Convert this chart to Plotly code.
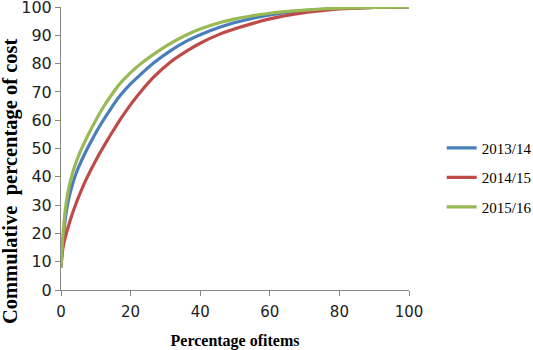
import plotly.graph_objects as go

series_names = ["2013/14", "2014/15", "2015/16"]

blue_x = [0, 0.3, 0.7, 1.2, 2, 3, 4, 5, 7, 9.3, 11.3, 14, 17, 20, 22.2, 26.6, 31.4, 36.2, 40, 45.8, 50, 60, 70, 80, 90, 100]
blue_y = [8, 13, 19, 25, 31, 36, 40, 43.2, 48.6, 54, 58.3, 63.5, 68.7, 72.8, 75.4, 80.2, 84.5, 88, 90.2, 92.9, 94.5, 97.2, 98.7, 99.5, 99.9, 100]

red_x = [0, 0.3, 0.8, 2, 3, 4, 5.5, 7.5, 10.3, 13.6, 15.1, 17, 20, 22.2, 26.6, 31.4, 36.2, 40, 45.8, 50, 60, 70, 75, 80, 90, 100]
red_y = [8, 12.5, 16.5, 22, 26, 29.5, 34.2, 39.8, 46.5, 53.5, 56.5, 60.2, 65.5, 69, 75.2, 80.5, 84.5, 87.2, 90.5, 92.3, 95.8, 98, 98.7, 99.3, 99.9, 100]

green_x = [0, 0.3, 0.7, 1.2, 2, 3, 4, 5.5, 7, 9.5, 12, 15, 17, 20, 23, 27, 31, 36, 40, 46, 50, 55, 60, 70, 80, 90, 100]
green_y = [8, 15, 21.5, 28, 34.5, 40, 44, 48.8, 52.8, 58.8, 64.3, 69.8, 73, 76.8, 80, 83.6, 86.8, 90.1, 92.2, 94.6, 95.8, 96.9, 97.8, 98.9, 99.6, 99.9, 100]

x_ticks = [0, 20, 40, 60, 80, 100]
y_ticks = [0, 10, 20, 30, 40, 50, 60, 70, 80, 90, 100]

colors = ["#4A7EBB", "#BE4B48", "#98B954"]
xs = [blue_x, red_x, green_x]
ys = [blue_y, red_y, green_y]

fig = go.Figure()
for name, x, y, c in zip(series_names, xs, ys, colors):
    fig.add_trace(go.Scatter(
        x=x, y=y, mode="lines", name=name, legendgroup=name,
        line=dict(color=c, width=3.2, shape="spline", smoothing=0.8),
        cliponaxis=False,
    ))

axis_common = dict(
    showgrid=False, zeroline=False, showline=True, linecolor="#878787", linewidth=1,
    ticks="outside", ticklen=5, tickcolor="#878787", tickwidth=1,
    automargin=False,
)

fig.update_layout(
    width=533, height=350,
    margin=dict(l=61, r=124, t=7, b=60, autoexpand=False),
    paper_bgcolor="white", plot_bgcolor="white",
    showlegend=True,
    legend=dict(
        x=1.094, y=0.397, xanchor="left", yanchor="middle",
        font=dict(family="Liberation Serif", size=15, color="#000000"),
        tracegroupgap=7, traceorder="grouped",
        bgcolor="rgba(0,0,0,0)",
    ),
    xaxis=dict(
        range=[0, 100], tickvals=x_ticks, ticklabelstandoff=3,
        tickfont=dict(family="DejaVu Sans", size=15, color="#222222"),
        title=dict(text="<b>Percentage ofitems</b>", standoff=15,
                   font=dict(family="Liberation Serif", size=16, color="#000000")),
        **axis_common,
    ),
    yaxis=dict(
        range=[0, 100], tickvals=y_ticks, ticklabeloverflow="allow",
        tickfont=dict(family="DejaVu Sans", size=16, color="#222222"),
        **axis_common,
    ),
    annotations=[dict(
        text="<b>Commulative  percentage of cost</b>", textangle=-90,
        xref="paper", yref="paper", x=-0.1466, y=0.385,
        xanchor="center", yanchor="middle", showarrow=False,
        font=dict(family="Liberation Serif", size=20.5, color="#000000"),
    )],
)

fig.write_html(
    "out.html",
    config={"displayModeBar": False},
    post_script="document.body.style.margin='0';document.body.style.padding='0';",
)
